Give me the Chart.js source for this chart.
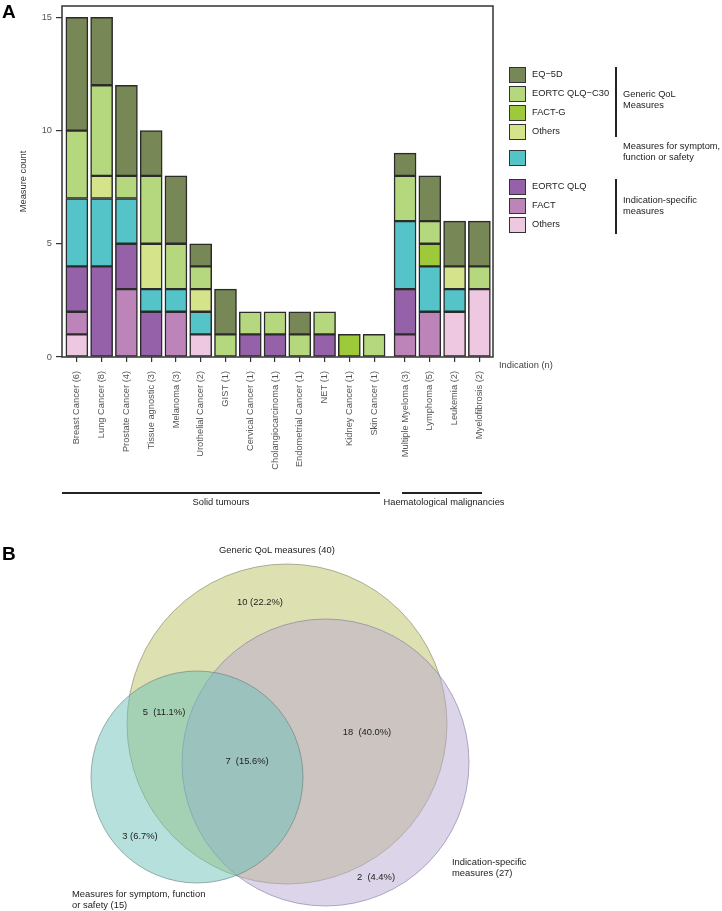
<!DOCTYPE html>
<html><head><meta charset="utf-8">
<script src="https://cdn.jsdelivr.net/npm/chart.js@4.4.1/dist/chart.umd.min.js"></script>
<style>
body{margin:0;width:722px;height:911px;position:relative;background:#fff;font-family:"Liberation Sans",Arial,sans-serif;overflow:hidden}
.t{position:absolute;white-space:nowrap;font-size:9.3px;color:#222;line-height:11.3px}
.sw{position:absolute;left:509px;width:15px;height:14px;border:1px solid #333}
.vl{position:absolute;width:1.5px;background:#222}
.hl{position:absolute;height:1.5px;background:#222}
.panel{position:absolute;font-weight:bold;font-size:19px;color:#000}
</style></head><body>
<canvas id="chartA" width="722" height="520" style="position:absolute;left:0;top:0"></canvas>
<canvas id="chartB" width="722" height="381" style="position:absolute;left:0;top:530px"></canvas>

<div class="panel" style="left:2px;top:1px">A</div>
<div class="panel" style="left:2px;top:543px">B</div>

<div class="t" style="left:499px;top:360px;color:#444">Indication (n)</div>
<div class="hl" style="left:62px;top:492px;width:318px"></div>
<div class="hl" style="left:402px;top:492px;width:80px"></div>
<div class="t" style="left:221px;top:497px;transform:translateX(-50%)">Solid tumours</div>
<div class="t" style="left:444px;top:497px;transform:translateX(-50%)">Haematological malignancies</div>

<div id="legend"></div>
<div id="vennText"></div>

<script>
// ---------- Panel A data ----------
const indications = ["Breast Cancer (6)","Lung Cancer (8)","Prostate Cancer (4)","Tissue agnostic (3)","Melanoma (3)","Urothelial Cancer (2)","GIST (1)","Cervical Cancer (1)","Cholangiocarcinoma (1)","Endometrial Cancer (1)","NET (1)","Kidney Cancer (1)","Skin Cancer (1)","Multiple Myeloma (3)","Lymphoma (5)","Leukemia (2)","Myelofibrosis (2)"];
const indicationGroup = ["solid","solid","solid","solid","solid","solid","solid","solid","solid","solid","solid","solid","solid","haem","haem","haem","haem"];
// series, bottom of stack first
const indOthers  = [1,0,0,0,0,1,0,0,0,0,0,0,0, 0,0,2,3];
const fact       = [1,0,3,0,2,0,0,0,0,0,0,0,0, 1,2,0,0];
const eortcQlq   = [2,4,2,2,0,0,0,1,1,0,1,0,0, 2,0,0,0];
const symptom    = [3,3,2,1,1,1,0,0,0,0,0,0,0, 3,2,1,0];
const genOthers  = [0,1,0,2,0,1,0,0,0,0,0,0,0, 0,0,1,0];
const factG      = [0,0,0,0,0,0,0,0,0,0,0,1,0, 0,1,0,0];
const qlqC30     = [3,4,1,3,2,1,1,1,1,1,1,0,1, 2,1,0,1];
const eq5d       = [5,3,4,2,3,1,2,0,0,1,0,0,0, 1,2,2,2];
const yTicks = [0,5,10,15];

// ---------- Panel B data ----------
const vennSetNames = ["Generic QoL measures (40)","Indication-specific measures (27)","Measures for symptom, function or safety (15)"];
const vennSetSizes = [40,27,15];
const vennRegionLabels = ["10 (22.2%)","18  (40.0%)","5  (11.1%)","7  (15.6%)","3 (6.7%)","2  (4.4%)"];

// ---------- styles / layout ----------
const seriesDefs = [
  {label:"Others (indication-specific)", data:indOthers, color:"#EEC8E0"},
  {label:"FACT", data:fact, color:"#BD84BA"},
  {label:"EORTC QLQ", data:eortcQlq, color:"#9561A8"},
  {label:"Measures for symptom, function or safety", data:symptom, color:"#55C4C8"},
  {label:"Others (generic)", data:genOthers, color:"#D5E38A"},
  {label:"FACT-G", data:factG, color:"#9DC93B"},
  {label:"EORTC QLQ\u2212C30", data:qlqC30, color:"#B5D77D"},
  {label:"EQ\u22125D", data:eq5d, color:"#778755"}
];
const groupGap = 0.25;
const xPos = indications.map((_, i) => i + (indicationGroup[i] === "haem" ? groupGap : 0));

const framePlugin = {
  id: "frame",
  afterDraw(chart) {
    const a = chart.chartArea, ctx = chart.ctx;
    ctx.save();
    ctx.strokeStyle = "#333"; ctx.lineWidth = 1.5;
    ctx.strokeRect(a.left, a.top, a.right - a.left, a.bottom - a.top);
    ctx.restore();
  }
};

new Chart(document.getElementById("chartA"), {
  type: "bar",
  data: {
    datasets: seriesDefs.map(s => ({
      label: s.label,
      data: s.data.map((v, i) => ({x: xPos[i], y: v === 0 ? null : v})),
      backgroundColor: s.color,
      borderColor: "#2b2b2b",
      borderWidth: 1.5,
      borderSkipped: false,
      barThickness: 22,
      stack: "all"
    }))
  },
  options: {
    responsive: false, animation: false, events: [],
    layout: {autoPadding: false, padding: {left: 0, top: 6, right: 229, bottom: 0}},
    plugins: {legend: {display: false}, tooltip: {enabled: false}},
    scales: {
      x: {
        type: "linear", min: -0.6, max: 16.8, offset: false,
        afterBuildTicks: s => { s.ticks = xPos.map(v => ({value: v})); },
        afterFit: s => { s.height = 163; s.paddingLeft = 0; s.paddingRight = 0; },
        border: {display: false},
        grid: {offset: false, drawOnChartArea: false, drawTicks: true, tickLength: 5, color: "#333", lineWidth: 1.2},
        ticks: {
          autoSkip: false, minRotation: 90, maxRotation: 90, padding: 9,
          color: "#555", font: {family: "Liberation Sans", size: 9.3},
          callback: (v, i) => indications[i]
        }
      },
      y: {
        stacked: true, min: 0, max: 15.5,
        afterBuildTicks: s => { s.ticks = yTicks.map(v => ({value: v})); },
        afterFit: s => { s.width = 62; s.paddingTop = 0; s.paddingBottom = 0; },
        border: {display: false},
        grid: {drawOnChartArea: false, drawTicks: true, tickLength: 6, color: "#333", lineWidth: 1.2},
        ticks: {padding: 4, color: "#555", font: {family: "Liberation Sans", size: 9.3}},
        title: {display: true, text: "Measure count", color: "#333", font: {family: "Liberation Sans", size: 9.3}, padding: {top: 18, bottom: 0}}
      }
    }
  },
  plugins: [framePlugin]
});

// ---------- Legend (HTML) ----------
const legendRows = [
  {text:"EQ\u22125D", color:"#778755", cy:74.5},
  {text:"EORTC QLQ\u2212C30", color:"#B5D77D", cy:93.5},
  {text:"FACT-G", color:"#9DC93B", cy:113},
  {text:"Others", color:"#D5E38A", cy:131.5},
  {text:"", color:"#55C4C8", cy:158},
  {text:"EORTC QLQ", color:"#9561A8", cy:187},
  {text:"FACT", color:"#BD84BA", cy:206},
  {text:"Others", color:"#EEC8E0", cy:225}
];
let lh = "";
legendRows.forEach(r => {
  lh += `<div class="sw" style="top:${r.cy-8}px;background:${r.color}"></div>`;
  if (r.text) lh += `<div class="t" style="left:532px;top:${r.cy-6}px">${r.text}</div>`;
});
lh += `<div class="vl" style="left:615px;top:67px;height:70px"></div>`;
lh += `<div class="vl" style="left:615px;top:179px;height:55px"></div>`;
lh += `<div class="t" style="left:623px;top:89px">Generic QoL<br>Measures</div>`;
lh += `<div class="t" style="left:623px;top:141px">Measures for symptom,<br>function or safety</div>`;
lh += `<div class="t" style="left:623px;top:195px">Indication-specific<br>measures</div>`;
document.getElementById("legend").innerHTML = lh;

// ---------- Panel B: Venn via bubble chart ----------
const vennLayout = [
  {x:287, y:724, r:160, fill:"rgba(187,193,97,0.5)",  stroke:"rgba(120,120,90,0.7)"},
  {x:325.5, y:762.5, r:143.5, fill:"rgba(185,169,209,0.5)", stroke:"rgba(120,110,160,0.7)"},
  {x:197, y:777, r:106, fill:"rgba(107,193,185,0.5)", stroke:"rgba(100,120,120,0.7)"}
];
new Chart(document.getElementById("chartB"), {
  type: "bubble",
  data: {
    datasets: [{
      label: "Venn",
      data: vennLayout.map((c, i) => ({x: c.x, y: c.y, r: c.r, size: vennSetSizes[i]})),
      backgroundColor: vennLayout.map(c => c.fill),
      borderColor: vennLayout.map(c => c.stroke),
      borderWidth: 0.8,
      clip: false
    }]
  },
  options: {
    responsive: false, animation: false, events: [],
    layout: {autoPadding: false, padding: 0},
    plugins: {legend: {display: false}, tooltip: {enabled: false}},
    scales: {
      x: {type: "linear", min: 0, max: 722, display: false},
      y: {type: "linear", min: 530, max: 911, reverse: true, display: false}
    }
  }
});

const vennTextPos = [
  {txt: vennRegionLabels[0], cx:260, cy:602},
  {txt: vennRegionLabels[1], cx:367, cy:732},
  {txt: vennRegionLabels[2], cx:164, cy:712},
  {txt: vennRegionLabels[3], cx:247, cy:761},
  {txt: vennRegionLabels[4], cx:140, cy:836},
  {txt: vennRegionLabels[5], cx:376, cy:877}
];
let vh = "";
vennTextPos.forEach(p => {
  vh += `<div class="t" style="left:${p.cx}px;top:${p.cy-6}px;transform:translateX(-50%);font-size:9.4px;white-space:pre">${p.txt}</div>`;
});
vh += `<div class="t" style="left:277px;top:544px;transform:translateX(-50%);font-size:9.4px">${vennSetNames[0]}</div>`;
vh += `<div class="t" style="left:452px;top:856px;font-size:9.4px">Indication-specific<br>measures (${vennSetSizes[1]})</div>`;
vh += `<div class="t" style="left:72px;top:888px;font-size:9.4px">Measures for symptom, function<br>or safety (${vennSetSizes[2]})</div>`;
document.getElementById("vennText").innerHTML = vh;
</script>
</body></html>
